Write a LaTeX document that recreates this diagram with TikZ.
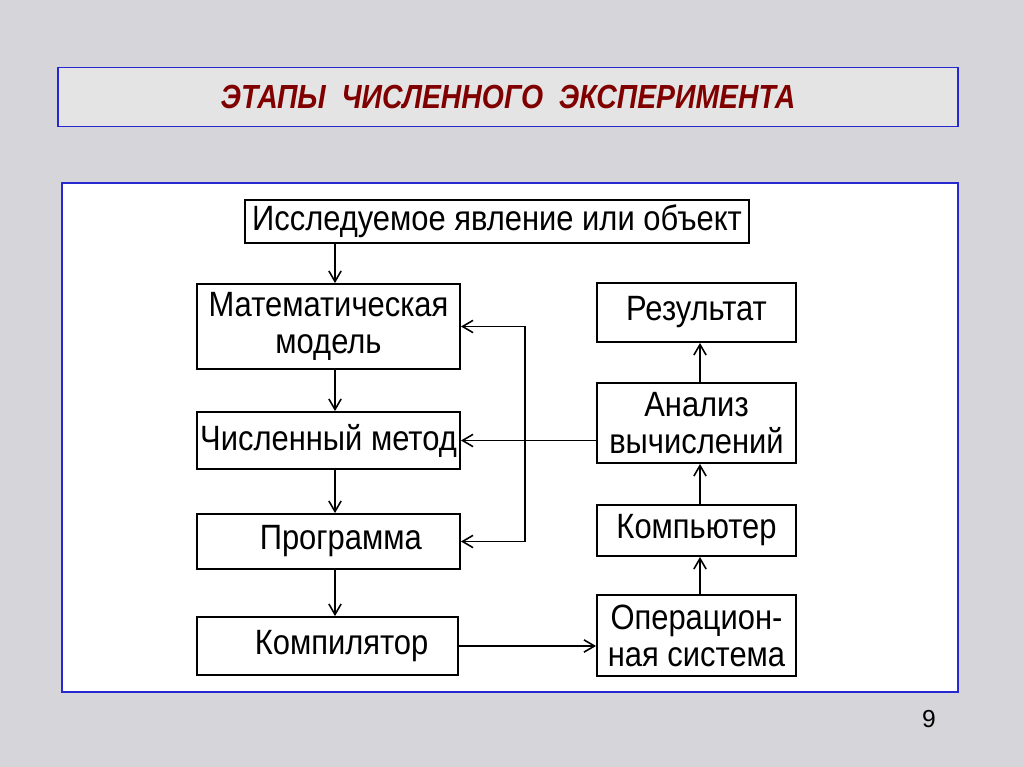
\documentclass[tikz,border=0pt]{standalone}
\usepackage{fontspec}
\setmainfont{Liberation Sans}
\newfontfamily\boxfont[FakeStretch=0.88]{Liberation Sans}
\newfontfamily\titlefont[FakeStretch=0.85]{Liberation Sans}
\usetikzlibrary{arrows.meta}
\definecolor{bg}{RGB}{214,214,218}
\definecolor{titlefill}{RGB}{228,228,228}
\definecolor{frameblue}{RGB}{40,40,210}
\definecolor{titlered}{RGB}{128,0,0}
\tikzset{
  stagebox/.style={draw=black, line width=1.1pt, fill=white, inner sep=0pt, align=center,
    font=\boxfont\fontsize{20}{21}\selectfont},
  arr/.style={line width=0.9pt, -{Straight Barb[length=6pt,width=7pt]}},
  arrboth/.style={line width=0.9pt, {Straight Barb[length=6pt,width=7pt]}-{Straight Barb[length=6pt,width=7pt]}},
}
\begin{document}
\begin{tikzpicture}[x=0.02cm,y=-0.02cm]
\fill[bg] (0,0) rectangle (1024,767);
\useasboundingbox (0,0) rectangle (1024,767);
% title
\node[draw=frameblue, line width=0.8pt, fill=titlefill, minimum width=18cm, minimum height=1.18cm,
  font=\titlefont\fontsize{19}{21}\selectfont\bfseries\itshape, text=titlered] (title) at (508,97)
  {ЭТАПЫ\ \ ЧИСЛЕННОГО\ \ ЭКСПЕРИМЕНТА};
% panel
\draw[draw=frameblue, line width=0.8pt, fill=white] (62,183) rectangle (958,692);
% boxes
\node[stagebox, minimum width=10.08cm, minimum height=0.86cm] (obj) at (497,221.5) {Исследуемое явление или объект};
\node[stagebox, minimum width=5.26cm, minimum height=1.7cm] (mat) at (328.5,326.5) {Математическая\\модель};
\node[stagebox, minimum width=5.26cm, minimum height=1.14cm] (num) at (328.5,440.5) {Численный метод};
\node[stagebox, minimum width=5.26cm, minimum height=1.1cm] (prog) at (328.5,541.5) {\hspace{14pt}Программа};
\node[stagebox, minimum width=5.22cm, minimum height=1.16cm] (comp) at (327.5,646) {\hspace{16pt}Компилятор};
\node[stagebox, minimum width=3.98cm, minimum height=1.18cm] (res) at (696.5,312.5) {Результат};
\node[stagebox, minimum width=3.98cm, minimum height=1.6cm] (an) at (696.5,423) {Анализ\\вычислений};
\node[stagebox, minimum width=3.98cm, minimum height=1.02cm] (pc) at (696.5,530.5) {Компьютер};
\node[stagebox, minimum width=3.98cm, minimum height=1.62cm] (os) at (696.5,635.5) {Операцион-\\ная система};
% helper coordinates
\coordinate (lx) at (335,0);
\coordinate (rx) at (700,0);
\coordinate (loopx) at (525,0);
% connectors
\draw[arr] (obj.south -| lx) -- (mat.north -| lx);
\draw[arr] (mat.south -| lx) -- (num.north -| lx);
\draw[arr] (num.south -| lx) -- (prog.north -| lx);
\draw[arr] (prog.south -| lx) -- (comp.north -| lx);
\draw[arr] (comp.east) -- (os.west |- comp.east);
\draw[arr] (os.north -| rx) -- (pc.south -| rx);
\draw[arr] (pc.north -| rx) -- (an.south -| rx);
\draw[arr] (an.north -| rx) -- (res.south -| rx);
\draw[arr] (an.west |- num.east) -- (num.east);
\draw[arrboth] (mat.east) -- (mat.east -| loopx) -- (prog.east -| loopx) -- (prog.east);
% page number
\node[font=\fontsize{14}{16}\selectfont] (pnum) at (929,719) {9};
\end{tikzpicture}
\end{document}
